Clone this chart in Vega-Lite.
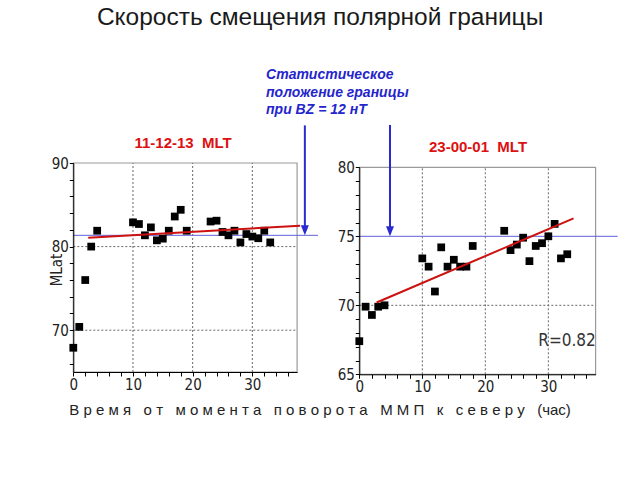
{
  "$schema": "https://vega.github.io/schema/vega-lite/v6.json",
  "width": 640,
  "height": 480,
  "autosize": {"type": "none"},
  "padding": 0,
  "background": "white",
  "config": {"view": {"stroke": null}, "font": "Liberation Sans"},
  "datasets": {
    "leftPts": [
      {"x": 0, "y": 67.9}, {"x": 1, "y": 70.4}, {"x": 2, "y": 76.0}, {"x": 3, "y": 80.0}, {"x": 4, "y": 81.9},
      {"x": 10, "y": 82.9}, {"x": 11, "y": 82.7}, {"x": 12, "y": 81.35}, {"x": 13, "y": 82.3}, {"x": 14, "y": 80.75},
      {"x": 15, "y": 80.95}, {"x": 16, "y": 81.9}, {"x": 17, "y": 83.6}, {"x": 18, "y": 84.4}, {"x": 19, "y": 81.9},
      {"x": 23, "y": 83.0}, {"x": 24, "y": 83.1}, {"x": 25, "y": 81.75}, {"x": 26, "y": 81.35}, {"x": 27, "y": 81.9},
      {"x": 28, "y": 80.5}, {"x": 29, "y": 81.5}, {"x": 30, "y": 81.2}, {"x": 31, "y": 81.0}, {"x": 32, "y": 81.9},
      {"x": 33, "y": 80.5}
    ],
    "rightPts": [
      {"x": 0, "y": 67.4}, {"x": 1, "y": 69.9}, {"x": 2, "y": 69.3}, {"x": 3, "y": 69.9}, {"x": 4, "y": 70.0},
      {"x": 10, "y": 73.4}, {"x": 11, "y": 72.8}, {"x": 12, "y": 71.0}, {"x": 13, "y": 74.2}, {"x": 14, "y": 72.8},
      {"x": 15, "y": 73.3}, {"x": 16, "y": 72.8}, {"x": 17, "y": 72.8}, {"x": 18, "y": 74.3}, {"x": 23, "y": 75.4},
      {"x": 24, "y": 74.0}, {"x": 25, "y": 74.4}, {"x": 26, "y": 74.9}, {"x": 27, "y": 73.2}, {"x": 28, "y": 74.3},
      {"x": 29, "y": 74.5}, {"x": 30, "y": 75.0}, {"x": 31, "y": 75.9}, {"x": 32, "y": 73.4}, {"x": 33, "y": 73.7}
    ]
  },
  "layer": [
    {
      "encoding": {
        "x": {
          "field": "x", "type": "quantitative",
          "scale": {"domain": [0, 37.5], "range": [73.3, 297.1], "nice": false, "zero": false},
          "axis": {
            "orient": "bottom", "offset": -108, "title": null, "grid": false, "zindex": 1,
            "values": [0, 2, 4, 6, 8, 10, 12, 14, 16, 18, 20, 22, 24, 26, 28, 30, 32, 34, 36],
            "labelExpr": "datum.value % 10 === 0 ? datum.label : ''",
            "labelFlush": false, "labelOverlap": false,
            "domainColor": "#000", "tickColor": "#000", "tickSize": 4,
            "labelFont": "DejaVu Sans Condensed, Liberation Sans Narrow, Liberation Sans", "labelFontSize": 15, "labelColor": "#222", "labelPadding": 1
          }
        },
        "y": {
          "field": "y", "type": "quantitative",
          "scale": {"domain": [65, 90], "range": [372, 163], "nice": false, "zero": false},
          "axis": {
            "orient": "left", "offset": -73.3, "title": null, "grid": false, "zindex": 1,
            "values": [66, 68, 70, 72, 74, 76, 78, 80, 82, 84, 86, 88, 90],
            "labelExpr": "datum.value % 10 === 0 ? datum.label : ''",
            "labelFlush": false, "labelOverlap": false,
            "domainColor": "#000", "tickColor": "#000", "tickSize": 4,
            "labelFont": "DejaVu Sans Condensed, Liberation Sans Narrow, Liberation Sans", "labelFontSize": 15, "labelColor": "#222", "labelPadding": 1
          }
        }
      },
      "layer": [
        {
          "data": {"values": [{"x": 0, "x2": 37.5, "y": 65, "y2": 90}]},
          "mark": {"type": "rect", "fillOpacity": 0, "stroke": "#9a9a9a", "strokeWidth": 1.2},
          "encoding": {"x2": {"field": "x2"}, "y2": {"field": "y2"}}
        },
        {
          "data": {"values": [{"x": 10, "y": 65, "y2": 90}, {"x": 20, "y": 65, "y2": 90}, {"x": 30, "y": 65, "y2": 90}]},
          "mark": {"type": "rule", "color": "#666", "strokeDash": [2, 2], "strokeWidth": 1},
          "encoding": {"y2": {"field": "y2"}}
        },
        {
          "data": {"values": [{"x": 0, "x2": 37.5, "y": 70}, {"x": 0, "x2": 37.5, "y": 80}]},
          "mark": {"type": "rule", "color": "#666", "strokeDash": [2, 2], "strokeWidth": 1},
          "encoding": {"x2": {"field": "x2"}}
        },
        {
          "data": {"values": [{"x": 0, "x2": 41, "y": 81.35}]},
          "mark": {"type": "rule", "color": "#6060dd", "strokeWidth": 1},
          "encoding": {"x2": {"field": "x2"}}
        },
        {
          "data": {"name": "leftPts"},
          "mark": {"type": "point", "shape": "square", "filled": true, "color": "#000", "opacity": 1, "size": 60}
        },
        {
          "data": {"values": [{"x": 2.5, "y": 81.07, "x2": 38, "y2": 82.5}]},
          "mark": {"type": "rule", "color": "#cc1111", "strokeWidth": 2},
          "encoding": {"x2": {"field": "x2"}, "y2": {"field": "y2"}}
        },
        {
          "data": {"values": [{"x": 38.8, "y": 94.5, "y2": 82.2}]},
          "mark": {"type": "rule", "color": "#2a2ad0", "strokeWidth": 2},
          "encoding": {"y2": {"field": "y2"}}
        },
        {
          "data": {"values": [{"x": 38.8, "y": 81.35}]},
          "mark": {"type": "point", "shape": "M-0.8,-2L0.8,-2L0,0Z", "filled": true, "color": "#2a2ad0", "opacity": 1, "size": 100}
        },
        {
          "data": {"values": [{"x": 18.4, "y": 92.4, "text": "11-12-13\u00a0\u00a0MLT"}]},
          "mark": {"type": "text", "color": "#dd1111", "fontWeight": "bold", "fontSize": 15, "align": "center", "baseline": "middle"},
          "encoding": {"text": {"field": "text"}}
        },
        {
          "data": {"values": [{"x": -2.73, "y": 77.2, "text": "MLat"}]},
          "mark": {"type": "text", "color": "#222", "fontSize": 15, "font": "DejaVu Sans Condensed, Liberation Sans Narrow, Liberation Sans", "angle": 270, "align": "center", "baseline": "middle"},
          "encoding": {"text": {"field": "text"}}
        },
        {
          "data": {"values": [{"x": 41.35, "y": 107.34, "text": "Скорость смещения полярной границы"}]},
          "mark": {"type": "text", "color": "#1a1a1a", "fontSize": 24.5, "align": "center", "baseline": "middle"},
          "encoding": {"text": {"field": "text"}}
        },
        {
          "data": {"values": [
            {"x": 32.3, "y": 100.53, "text": "Статистическое"},
            {"x": 32.3, "y": 98.37, "text": "положение границы"},
            {"x": 32.3, "y": 96.34, "text": "при BZ = 12 нТ"}
          ]},
          "mark": {"type": "text", "color": "#2525cc", "fontSize": 14, "fontWeight": "bold", "fontStyle": "italic", "align": "left", "baseline": "middle"},
          "encoding": {"text": {"field": "text"}}
        },
        {
          "data": {"values": [{"x": 41.35, "y": 60.45, "text": "В р е м я \u00a0 о т \u00a0 м о м е н т а \u00a0 п о в о р о т а \u00a0 М М П \u00a0 к \u00a0 с е в е р у \u00a0 (час)"}]},
          "mark": {"type": "text", "color": "#222", "fontSize": 15, "align": "center", "baseline": "middle"},
          "encoding": {"text": {"field": "text"}}
        }
      ]
    },
    {
      "encoding": {
        "x": {
          "field": "x", "type": "quantitative",
          "scale": {"domain": [0, 37.5], "range": [359.3, 595.6], "nice": false, "zero": false},
          "axis": {
            "orient": "bottom", "offset": -105.7, "title": null, "grid": false, "zindex": 1,
            "values": [0, 2, 4, 6, 8, 10, 12, 14, 16, 18, 20, 22, 24, 26, 28, 30, 32, 34, 36],
            "labelExpr": "datum.value % 10 === 0 ? datum.label : ''",
            "labelFlush": false, "labelOverlap": false,
            "domainColor": "#000", "tickColor": "#000", "tickSize": 4,
            "labelFont": "DejaVu Sans Condensed, Liberation Sans Narrow, Liberation Sans", "labelFontSize": 15, "labelColor": "#222", "labelPadding": 1
          }
        },
        "y": {
          "field": "y", "type": "quantitative",
          "scale": {"domain": [65, 80], "range": [374.3, 167.3], "nice": false, "zero": false},
          "axis": {
            "orient": "left", "offset": -359.3, "title": null, "grid": false, "zindex": 1,
            "values": [65, 66, 67, 68, 69, 70, 71, 72, 73, 74, 75, 76, 77, 78, 79, 80],
            "labelExpr": "datum.value % 5 === 0 ? datum.label : ''",
            "labelFlush": false, "labelOverlap": false,
            "domainColor": "#000", "tickColor": "#000", "tickSize": 4,
            "labelFont": "DejaVu Sans Condensed, Liberation Sans Narrow, Liberation Sans", "labelFontSize": 15, "labelColor": "#222", "labelPadding": 1
          }
        }
      },
      "layer": [
        {
          "data": {"values": [{"x": 0, "x2": 37.5, "y": 65, "y2": 80}]},
          "mark": {"type": "rect", "fillOpacity": 0, "stroke": "#9a9a9a", "strokeWidth": 1.2},
          "encoding": {"x2": {"field": "x2"}, "y2": {"field": "y2"}}
        },
        {
          "data": {"values": [{"x": 10, "y": 65, "y2": 80}, {"x": 20, "y": 65, "y2": 80}, {"x": 30, "y": 65, "y2": 80}]},
          "mark": {"type": "rule", "color": "#666", "strokeDash": [2, 2], "strokeWidth": 1},
          "encoding": {"y2": {"field": "y2"}}
        },
        {
          "data": {"values": [{"x": 0, "x2": 37.5, "y": 70}]},
          "mark": {"type": "rule", "color": "#666", "strokeDash": [2, 2], "strokeWidth": 1},
          "encoding": {"x2": {"field": "x2"}}
        },
        {
          "data": {"values": [{"x": 0, "x2": 41, "y": 75}]},
          "mark": {"type": "rule", "color": "#6060dd", "strokeWidth": 1},
          "encoding": {"x2": {"field": "x2"}}
        },
        {
          "data": {"name": "rightPts"},
          "mark": {"type": "point", "shape": "square", "filled": true, "color": "#000", "opacity": 1, "size": 60}
        },
        {
          "data": {"values": [{"x": 2.75, "y": 70.2, "x2": 34, "y2": 76.3}]},
          "mark": {"type": "rule", "color": "#cc1111", "strokeWidth": 2},
          "encoding": {"x2": {"field": "x2"}, "y2": {"field": "y2"}}
        },
        {
          "data": {"values": [{"x": 4.87, "y": 83.07, "y2": 75.5}]},
          "mark": {"type": "rule", "color": "#2a2ad0", "strokeWidth": 2},
          "encoding": {"y2": {"field": "y2"}}
        },
        {
          "data": {"values": [{"x": 4.87, "y": 75}]},
          "mark": {"type": "point", "shape": "M-0.8,-2L0.8,-2L0,0Z", "filled": true, "color": "#2a2ad0", "opacity": 1, "size": 100}
        },
        {
          "data": {"values": [{"x": 18.84, "y": 81.47, "text": "23-00-01\u00a0\u00a0MLT"}]},
          "mark": {"type": "text", "color": "#dd1111", "fontWeight": "bold", "fontSize": 15, "align": "center", "baseline": "middle"},
          "encoding": {"text": {"field": "text"}}
        },
        {
          "data": {"values": [{"x": 32.97, "y": 67.41, "text": "R=0.82"}]},
          "mark": {"type": "text", "color": "#333", "fontSize": 17, "font": "DejaVu Sans Condensed, Liberation Sans Narrow, Liberation Sans", "align": "center", "baseline": "middle"},
          "encoding": {"text": {"field": "text"}}
        }
      ]
    }
  ],
  "resolve": {
    "scale": {"x": "independent", "y": "independent"},
    "axis": {"x": "independent", "y": "independent"}
  }
}
